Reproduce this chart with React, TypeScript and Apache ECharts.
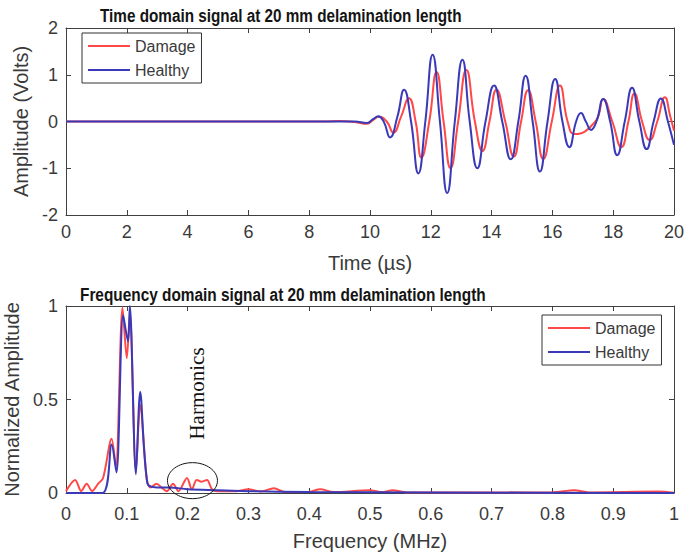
import React, { useEffect, useRef } from 'react';
import * as echarts from 'echarts';

const seriesNames = ['Damage', 'Healthy'];
const chartTitles = [
  'Time domain signal at 20 mm delamination length',
  'Frequency domain signal at 20 mm delamination length',
];
const axisNames = ['Time (\u00b5s)', 'Amplitude (Volts)', 'Frequency (MHz)', 'Normalized Amplitude'];
const annotationText = 'Harmonics';

// time (µs), amplitude (V)
const damageTime: [number, number][] = [
  [0, 0], [8.5, 0], [9.0, 0.01], [9.5, -0.01], [9.9, -0.05], [10.1, 0.03], [10.3, 0.1], [10.55, 0],
  [10.77, -0.24], [11.02, 0.1], [11.28, 0.5], [11.5, 0], [11.69, -0.77], [11.95, 0], [12.19, 1.06],
  [12.42, 0], [12.65, -1.0], [12.9, 0], [13.17, 1.1], [13.45, 0], [13.7, -0.63], [13.93, 0],
  [14.16, 0.68], [14.45, 0], [14.73, -0.75], [14.97, 0], [15.2, 0.67], [15.45, 0], [15.7, -0.8],
  [15.98, 0], [16.25, 0.77], [16.5, 0], [16.72, -0.27], [16.95, -0.25], [17.1, -0.2], [17.3, -0.08],
  [17.5, 0.1], [17.67, 0.48], [17.97, 0], [18.27, -0.55], [18.5, 0], [18.7, 0.6], [18.95, 0],
  [19.2, -0.4], [19.45, 0], [19.7, 0.52], [19.88, 0.1], [20, -0.2],
];
const healthyTime: [number, number][] = [
  [0, 0], [8.5, 0], [9.0, 0], [9.5, 0], [9.9, -0.03], [10.1, 0.05], [10.27, 0.11], [10.45, 0],
  [10.66, -0.34], [10.9, 0.1], [11.12, 0.68], [11.35, 0], [11.59, -1.11], [11.82, 0], [12.06, 1.43],
  [12.3, 0], [12.54, -1.53], [12.79, 0], [13.04, 1.32], [13.28, 0], [13.53, -1.0], [13.8, 0],
  [14.08, 0.77], [14.35, 0], [14.63, -0.81], [14.88, 0], [15.12, 0.98], [15.35, 0], [15.59, -1.07],
  [15.84, 0], [16.09, 0.91], [16.33, 0], [16.56, -0.55], [16.78, 0], [16.94, 0.18], [17.1, 0],
  [17.27, -0.18], [17.45, 0], [17.67, 0.48], [17.9, 0], [18.13, -0.72], [18.38, 0], [18.62, 0.72],
  [18.86, 0], [19.1, -0.59], [19.33, 0], [19.57, 0.49], [19.8, 0], [20, -0.5],
];

// frequency (MHz), normalized amplitude
const damageFreq: [number, number][] = [
  [0, 0.01], [0.015, 0.07], [0.025, 0.01], [0.034, 0.05], [0.043, 0.01], [0.053, 0.05], [0.061, 0.08],
  [0.075, 0.29], [0.082, 0.14], [0.093, 0.99], [0.1, 0.72], [0.105, 0.96], [0.115, 0.12], [0.122, 0.47],
  [0.133, 0.07], [0.139, 0.03], [0.149, 0.05], [0.157, 0.03], [0.166, 0.01], [0.176, 0.05],
  [0.185, 0.01], [0.199, 0.08], [0.207, 0.02], [0.215, 0.07], [0.223, 0.06], [0.232, 0.07],
  [0.24, 0.02], [0.249, 0.01], [0.28, 0.01], [0.3, 0.02], [0.32, 0.008], [0.342, 0.025], [0.36, 0.005],
  [0.4, 0.006], [0.418, 0.02], [0.44, 0.005], [0.5, 0.015], [0.52, 0.005], [0.537, 0.015],
  [0.56, 0.003], [0.8, 0.003], [0.836, 0.015], [0.86, 0.003], [0.975, 0.008], [1, 0.002],
];
const healthyFreq: [number, number][] = [
  [0, 0], [0.06, 0], [0.075, 0.26], [0.083, 0.11], [0.094, 0.95], [0.102, 0.81], [0.105, 1.0],
  [0.115, 0.1], [0.122, 0.54], [0.134, 0.05], [0.15, 0.03], [0.17, 0.03], [0.2, 0.02], [0.25, 0.015],
  [0.3, 0.01], [0.4, 0.005], [0.6, 0.003], [1, 0],
];

const RED = '#ff4848';
const BLUE = '#3a3ab8';
const FONT = 'Liberation Sans, Arial, sans-serif';
const TEXT = '#3a3a3a';

function xAxis(gridIndex: number, min: number, max: number, interval: number, top: boolean, name?: string, nameGap?: number, labelMargin?: number) {
  return {
    type: 'value', gridIndex, min, max, interval,
    position: top ? 'top' : 'bottom',
    name: top ? '' : name, nameLocation: 'middle', nameGap,
    nameTextStyle: { fontFamily: FONT, fontSize: 20, color: TEXT },
    axisLine: { show: true, onZero: false, lineStyle: { color: '#404040', width: 1 } },
    axisTick: { show: true, inside: true, length: 5, lineStyle: { color: '#404040' } },
    axisLabel: { show: !top, fontFamily: FONT, fontSize: 18, color: TEXT, margin: labelMargin },
    splitLine: { show: false },
  };
}
function yAxis(gridIndex: number, min: number, max: number, interval: number, right: boolean, name?: string, nameGap?: number) {
  return {
    type: 'value', gridIndex, min, max, interval,
    position: right ? 'right' : 'left',
    name: right ? '' : name, nameLocation: 'middle', nameGap,
    nameTextStyle: { fontFamily: FONT, fontSize: 20, color: TEXT },
    axisLine: { show: true, onZero: false, lineStyle: { color: '#404040', width: 1 } },
    axisTick: { show: true, inside: true, length: 5, lineStyle: { color: '#404040' } },
    axisLabel: { show: !right, fontFamily: FONT, fontSize: 18, color: TEXT, margin: 8 },
    splitLine: { show: false },
  };
}
function legend(left: number, top: number) {
  return {
    orient: 'vertical', left, top, padding: [4, 6, 4, 6], itemGap: 6, itemWidth: 42, itemHeight: 2,
    icon: 'rect',
    borderColor: '#333', borderWidth: 1, backgroundColor: '#fff', borderRadius: 0,
    textStyle: { fontFamily: FONT, fontSize: 16, color: TEXT, lineHeight: 18 },
    data: seriesNames,
  };
}
function line(name: string, data: [number, number][], axisIndex: number, color: string, smooth: number) {
  return {
    name, type: 'line', data, xAxisIndex: axisIndex, yAxisIndex: axisIndex, symbol: 'none',
    smooth, lineStyle: { color, width: 2 }, itemStyle: { color }, emphasis: { disabled: true },
  };
}
function titleText(text: string, x: number, y: number, scaleX: number) {
  return {
    type: 'text', x, y, scaleX, z: 100,
    style: {
      text, fontFamily: FONT, fontWeight: 'bold', fontSize: 19, fill: '#141414',
      align: 'left', verticalAlign: 'middle',
    },
  };
}

export default function App() {
  const ref = useRef<HTMLDivElement>(null);
  useEffect(() => {
    const chart = echarts.init(ref.current!, undefined, { renderer: 'svg' });
    chart.setOption({
      animation: false,
      backgroundColor: '#fff',
      grid: [
        { left: 66, right: 12, top: 28, height: 187, outerBoundsMode: 'none', containLabel: false },
        { left: 66, right: 12, top: 306, height: 187, outerBoundsMode: 'none', containLabel: false },
      ],
      xAxis: [
        xAxis(0, 0, 20, 2, false, axisNames[0], 38, 8),
        xAxis(0, 0, 20, 2, true),
        xAxis(1, 0, 1, 0.1, false, axisNames[2], 38, 12),
        xAxis(1, 0, 1, 0.1, true),
      ],
      yAxis: [
        yAxis(0, -2, 2, 1, false, axisNames[1], 33),
        yAxis(0, -2, 2, 1, true),
        yAxis(1, 0, 1, 0.5, false, axisNames[3], 41),
        yAxis(1, 0, 1, 0.5, true),
      ],
      legend: [legend(82, 33), legend(542, 315)],
      series: [
        line(seriesNames[0], damageTime, 0, RED, 0.5),
        line(seriesNames[1], healthyTime, 0, BLUE, 0.5),
        line(seriesNames[0], damageFreq, 2, RED, 0.3),
        line(seriesNames[1], healthyFreq, 2, BLUE, 0.3),
      ],
    });
    const c = chart.convertToPixel({ xAxisIndex: 2, yAxisIndex: 2 } as any, [0.208, 0.066]) as number[];
    const t = chart.convertToPixel({ xAxisIndex: 2, yAxisIndex: 2 } as any, [0.215, 0.5]) as number[];
    chart.setOption({
      graphic: [
        titleText(chartTitles[0], 100, 15, 0.805),
        titleText(chartTitles[1], 80, 294, 0.81),
        { type: 'ellipse', shape: { cx: c[0], cy: c[1], rx: 25, ry: 18 }, style: { fill: 'none', stroke: '#111', lineWidth: 1 }, z: 100 },
        { type: 'text', x: t[0], y: t[1] - 6, rotation: Math.PI / 2, style: { text: annotationText, fontFamily: 'Liberation Serif, Times New Roman, serif', fontSize: 21, fill: '#111', align: 'center', verticalAlign: 'middle' }, z: 100 },
      ],
    });
    return () => chart.dispose();
  }, []);
  return <div ref={ref} style={{ position: 'absolute', left: 0, top: 0, width: 686, height: 560 }} />;
}
